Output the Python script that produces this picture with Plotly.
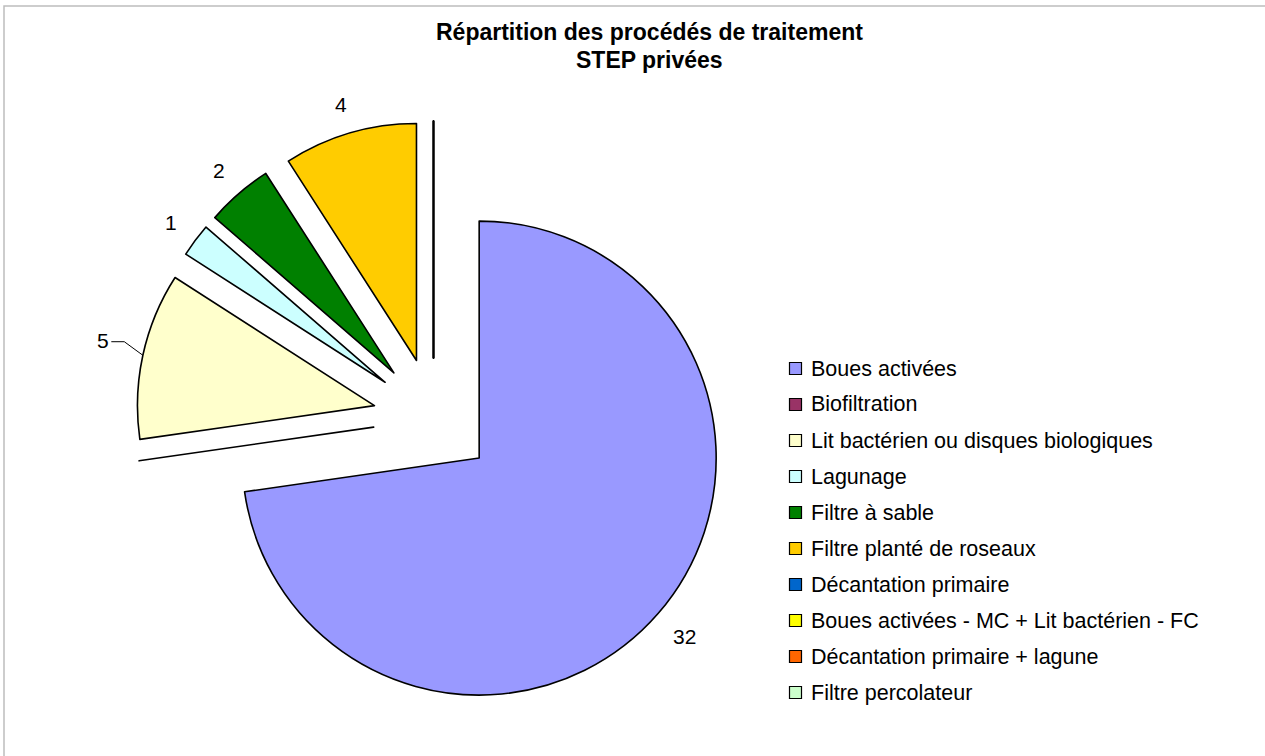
import math
import plotly.graph_objects as go

# Treatment processes of private wastewater plants (number of plants)
categories = [
    "Boues activées",
    "Biofiltration",
    "Lit bactérien ou disques biologiques",
    "Lagunage",
    "Filtre à sable",
    "Filtre planté de roseaux",
    "Décantation primaire",
    "Boues activées - MC + Lit bactérien - FC",
    "Décantation primaire + lagune",
    "Filtre percolateur",
]
values = [32, 0, 5, 1, 2, 4, 0, 0, 0, 0]
colors = [
    "#9999FF", "#993366", "#FFFFCC", "#CCFFFF", "#008000",
    "#FFCC00", "#0066CC", "#FFFF00", "#FF6600", "#CCFFCC",
]
title_lines = ["Répartition des procédés de traitement", "STEP privées"]
# value labels that sit further out, tied to their slice by a leader line
leader_labels = ["Lit bactérien ou disques biologiques"]

W, H = 1265, 756
FONT = "Liberation Sans, Arial, sans-serif"

# pie geometry in pixels (plot area == whole figure, margins are zero)
CX, CY, R, PULL = 433.5, 418.5, 237, 0.255
LABEL_FS = 21


def px(x):
    return x / W


def py(y):
    return 1 - y / H


half = R * (1 + PULL)
fig = go.Figure(
    go.Pie(
        labels=categories,
        values=values,
        textinfo="none",
        marker=dict(colors=colors, line=dict(color="black", width=1.6)),
        pull=[PULL] * len(values),
        sort=False,
        direction="clockwise",
        rotation=0,
        hoverinfo="label+value",
        domain=dict(x=[px(CX - half), px(CX + half)],
                    y=[py(CY + half), py(CY - half)]),
        showlegend=False,
    )
)

shapes = []
annotations = []

# Value labels placed outside each exploded slice, along its bisector
total = sum(values)
cum = 0
for name, v in zip(categories, values):
    start = cum
    cum += v
    if v <= 0:
        continue
    mid = math.radians((start + v / 2) / total * 360)
    dx, dy = math.sin(mid), -math.cos(mid)
    pcx, pcy = CX + PULL * R * dx, CY + PULL * R * dy
    txt = str(v)
    hw = 0.278 * LABEL_FS * len(txt)
    hh = 0.36 * LABEL_FS
    proj = hw * abs(dx) + hh * abs(dy)
    has_leader = name in leader_labels
    gap = 33 if has_leader else 21
    lx = pcx + (R + gap + proj) * dx
    ly = pcy + (R + gap + proj) * dy - (6 if has_leader else 0)
    annotations.append(dict(
        xref="paper", yref="paper", x=px(lx), y=py(ly),
        xanchor="center", yanchor="middle", text=txt, showarrow=False,
        font=dict(size=LABEL_FS, color="black", family=FONT),
    ))
    if has_leader:
        sgn = -1 if dx < 0 else 1
        ax, ay = pcx + R * dx, pcy + R * dy
        ex, sx = lx - sgn * (hw + 15), lx - sgn * (hw + 2)
        path = "M {:.5f},{:.5f} L {:.5f},{:.5f} L {:.5f},{:.5f}".format(
            px(sx), py(ly + 1), px(ex), py(ly + 1), px(ax), py(ay))
        shapes.append(dict(type="path", xref="paper", yref="paper",
                           path=path, line=dict(color="black", width=1)))

# Two-line bold heading
for text, yc in zip(title_lines, (32, 60)):
    annotations.append(dict(
        xref="paper", yref="paper", x=px(649), y=py(yc),
        xanchor="center", yanchor="middle", text="<b>" + text + "</b>",
        showarrow=False, font=dict(size=23, color="black", family=FONT),
    ))

# Legend drawn as a column of swatches and labels
leg_x, leg_y0, leg_step, sw = 795.5, 368.5, 36, 12
for i, (name, col) in enumerate(zip(categories, colors)):
    yc = leg_y0 + i * leg_step
    shapes.append(dict(
        type="rect", xref="paper", yref="paper",
        x0=px(leg_x - sw / 2), x1=px(leg_x + sw / 2),
        y0=py(yc + sw / 2), y1=py(yc - sw / 2),
        fillcolor=col, line=dict(color="black", width=1.2),
    ))
    annotations.append(dict(
        xref="paper", yref="paper", x=px(809), y=py(yc),
        xanchor="left", yanchor="middle", text=name, showarrow=False,
        font=dict(size=21.5, color="black", family=FONT),
    ))

# Chart area frame
shapes.append(dict(
    type="rect", xref="paper", yref="paper",
    x0=px(4), x1=px(W + 10), y0=py(H + 10), y1=py(6),
    line=dict(color="#BDBDBD", width=1.5), fillcolor="rgba(0,0,0,0)",
))

fig.update_layout(
    width=W,
    height=H,
    autosize=False,
    margin=dict(l=0, r=0, t=0, b=0, pad=0, autoexpand=False),
    paper_bgcolor="white",
    plot_bgcolor="white",
    shapes=shapes,
    annotations=annotations,
)

fig.write_html("out.html")
